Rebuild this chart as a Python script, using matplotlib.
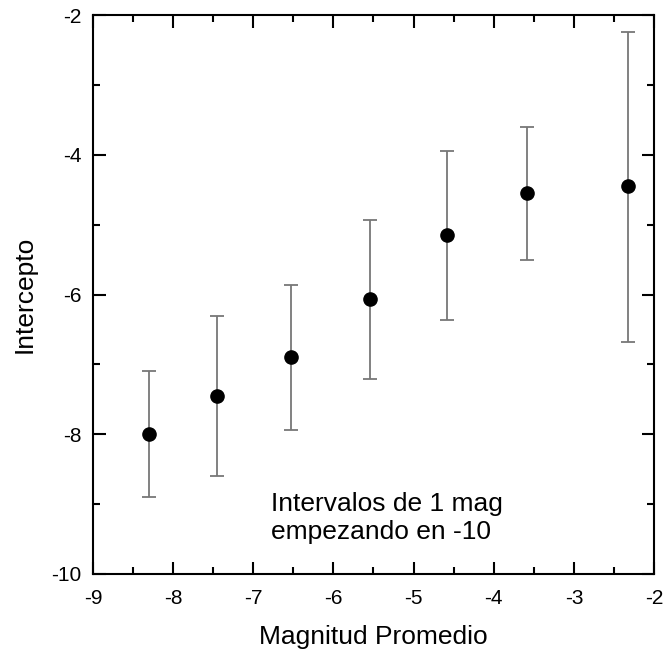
import matplotlib
matplotlib.use('Agg')
import matplotlib.pyplot as plt
from matplotlib.ticker import MultipleLocator

# magnitud promedio, intercepto y su error
magnitud = [-8.30, -7.45, -6.53, -5.54, -4.58, -3.59, -2.32]
intercepto = [-7.99, -7.45, -6.90, -6.07, -5.15, -4.55, -4.45]
err_sup = [0.90, 1.14, 1.03, 1.14, 1.20, 0.95, 2.21]
err_inf = [0.91, 1.15, 1.04, 1.14, 1.21, 0.95, 2.23]

plt.rcParams['font.family'] = ['Liberation Sans', 'DejaVu Sans']

fig = plt.figure(figsize=(6.65, 6.53), dpi=100)
ax = fig.add_axes([0.1398, 0.121, 0.8437, 0.856])

ax.errorbar(magnitud, intercepto, yerr=[err_inf, err_sup], fmt='none',
            ecolor='#777777', elinewidth=1.3, capsize=5, capthick=1.3, zorder=2)
ax.plot(magnitud, intercepto, 'o', color='black', markersize=9.5, zorder=3)

ax.set_xlim(-9, -2)
ax.set_ylim(-10, -2)
ax.xaxis.set_major_locator(MultipleLocator(1))
ax.xaxis.set_minor_locator(MultipleLocator(0.5))
ax.yaxis.set_major_locator(MultipleLocator(2))
ax.yaxis.set_minor_locator(MultipleLocator(1))
ax.tick_params(which='both', direction='in', top=True, right=True,
               labelsize=15, width=1.5)
ax.tick_params(axis='y', pad=8)
ax.tick_params(axis='x', pad=11)
ax.tick_params(which='major', length=9)
ax.tick_params(which='minor', length=5)
ax.xaxis.set_major_formatter(plt.FuncFormatter(lambda v, p: f'{v:.0f}'))
ax.yaxis.set_major_formatter(plt.FuncFormatter(lambda v, p: f'{v:.0f}'))
for s in ax.spines.values():
    s.set_linewidth(1.5)

ax.set_xlabel('Magnitud Promedio', fontsize=19, labelpad=12)
ax.set_ylabel('Intercepto', fontsize=19, labelpad=11)

ax.text(-6.78, -8.83, 'Intervalos de 1 mag\nempezando en -10', fontsize=19,
        ha='left', va='top', linespacing=1.18)

fig.savefig('out.png', dpi=100)
